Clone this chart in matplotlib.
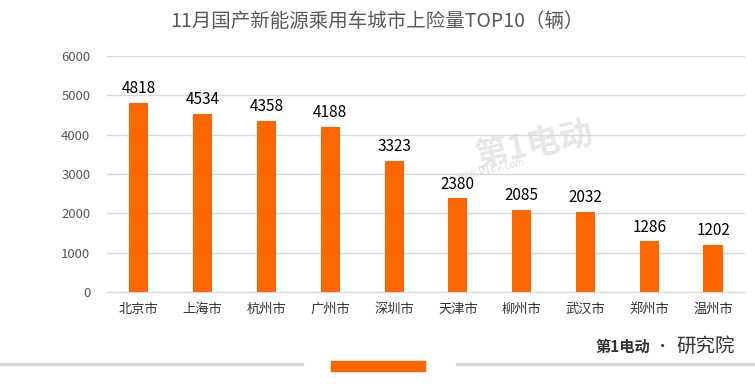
import matplotlib.pyplot as plt
from matplotlib.patches import Rectangle
from matplotlib.lines import Line2D

plt.rcParams['font.family'] = ['Noto Sans CJK SC', 'DejaVu Sans']

cities = ['北京市', '上海市', '杭州市', '广州市', '深圳市', '天津市', '柳州市', '武汉市', '郑州市', '温州市']
counts = [4818, 4534, 4358, 4188, 3323, 2380, 2085, 2032, 1286, 1202]
yticks = [0, 1000, 2000, 3000, 4000, 5000, 6000]

fig = plt.figure(figsize=(7.55, 3.92), dpi=100)
ax = fig.add_axes([0.1417, 0.255, 0.845, 0.602])

x = range(len(cities))
bars = ax.bar(x, counts, width=0.3, color='#FF6600', zorder=3)
for b, v in zip(bars, counts):
    ax.text(b.get_x() + b.get_width() / 2, v + 150, str(v), ha='center', va='bottom',
            fontsize=11, color='#000000', zorder=4)

ax.set_xlim(-0.5, len(cities) - 0.5)
ax.set_ylim(0, 6000)
ax.set_yticks(yticks)
ax.set_xticks(list(x))
ax.set_xticklabels(cities)
ax.grid(axis='y', color='#D9D9D9', linewidth=1, zorder=0)
for s in ['top', 'right', 'left']:
    ax.spines[s].set_visible(False)
ax.spines['bottom'].set_color('#D9D9D9')
ax.tick_params(axis='both', length=0, labelsize=9.5, colors='#595959')
ax.tick_params(axis='x', pad=8, colors='#333333')
ax.tick_params(axis='y', pad=12)

fig.text(0.5, 0.945, '11月国产新能源乘用车城市上险量TOP10（辆）', ha='center', va='center',
         fontsize=14, color='#595959')

# watermark, behind the bars
ax.text(0.67, 0.62, '第1电动', transform=ax.transAxes, fontsize=24, color='#E8E8E8',
        rotation=12, ha='center', va='center', fontweight='bold', zorder=1)
ax.text(0.60, 0.52, 'www.D1EV.com', transform=ax.transAxes, fontsize=7, color='#E0E0E0',
        rotation=12, ha='center', va='center', style='italic', zorder=1)

# bottom decoration
fig.add_artist(Line2D([0, 0.40], [0.071, 0.071], color='#D9D9D9', linewidth=2.5))
fig.add_artist(Line2D([0.605, 1.0], [0.071, 0.071], color='#D9D9D9', linewidth=2.5))
fig.add_artist(Rectangle((0.438, 0.054), 0.125, 0.026, color='#FF6600'))
fig.text(0.825, 0.115, '第1电动', fontsize=11, color='#333333', ha='center', va='center',
         fontweight='bold', style='italic')
fig.text(0.878, 0.115, '•', fontsize=11, color='#333333', ha='center', va='center')
fig.text(0.935, 0.115, '研究院', fontsize=14, color='#333333', ha='center', va='center')

fig.savefig('out.png', dpi=100)
